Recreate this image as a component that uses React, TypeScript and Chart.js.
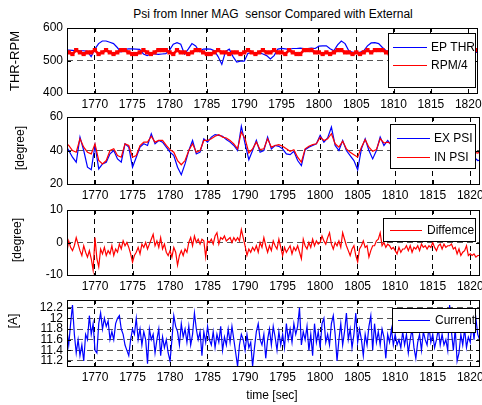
import React, { useEffect, useRef } from "react";
import { Chart, registerables } from "chart.js";

Chart.register(...registerables);

// ---- data -------------------------------------------------------------
const TIME_TICKS = [1770, 1775, 1780, 1785, 1790, 1795, 1800, 1805, 1810, 1815, 1820];
const TIME_MIN = 1766.27;
const TIME_MAX = 1821.3;

// slow channels sampled every 0.5 s starting at 1766.0 s
const SLOW_START = 1766.0;
const SLOW_STEP = 0.5;

const EP_THR = [
  532, 532, 531, 530, 530, 530, 528, 512, 535, 552,
  560, 560, 556, 552, 540, 526, 534, 536, 536, 535,
  534, 520, 515, 520, 520, 519, 520, 521, 532, 550,
  555, 550, 520, 535, 552, 545, 527, 535, 536, 535,
  530, 512, 488, 528, 535, 512, 495, 498, 498, 522,
  523, 522, 524, 520, 515, 505, 515, 535, 537, 536,
  534, 537, 537, 538, 537, 537, 538, 537, 544, 545,
  545, 536, 530, 548, 560, 552, 530, 525, 525, 525,
  530, 545, 554, 555,
  552, 540, 530, 528, 530, 532, 528, 526, 530, 534,
  531, 527, 525, 529, 533, 530, 526, 524, 527, 530,
  528, 525, 523, 526, 528, 526, 525, 525,
];

const RPM_4 = [
  525, 525, 520, 532, 525, 520, 525, 525, 532, 520,
  525, 532, 525, 520, 525, 532, 532, 525, 520, 520,
  525, 532, 525, 520, 525, 532, 532, 532, 525, 520,
  532, 525, 525, 520, 525, 532, 532, 525, 520, 520,
  525, 532, 525, 525, 520, 525, 525, 520, 525, 532,
  525, 520, 525, 532, 525, 525, 532, 525, 525, 520,
  532, 525, 520, 520, 532, 532, 532, 525, 525, 520,
  525, 520, 525, 532, 532, 525, 525, 520, 525, 520,
  525, 532, 525, 532, 532, 532,
  525, 520, 532, 525, 520, 525, 532, 525, 520, 525,
  532, 532, 525, 520, 525, 532, 525, 520, 525, 532,
  525, 525, 520, 532, 532, 532,
];

const EX_PSI = [
  44, 40, 36, 33, 48, 40, 30, 28.5, 43, 29,
  32, 33, 38, 40, 35, 33, 44, 42, 30, 36,
  42, 44, 43, 50, 44, 46, 45, 42, 39, 37,
  30, 25.5, 32, 40, 46, 38, 39, 47, 45, 48,
  49.5, 49, 48.5, 46.5, 45, 43, 40, 54.5, 44, 34.5,
  40, 46, 39, 40, 48, 41, 43, 42.5, 41, 38,
  37.5, 39.5, 34, 31, 40.5, 42, 43, 44, 49, 45,
  47.5, 54, 43, 40, 46, 40, 37, 34, 28.5, 41,
  47, 40, 35, 40, 48, 43,
  46, 43, 41, 47, 40, 39, 45, 46, 42, 38,
  41, 45, 47, 42, 39, 38, 41, 45, 42, 39,
  37, 40, 38, 36, 34, 34.5,
];

const IN_PSI = [
  45, 43, 40, 39, 47, 42, 39, 38, 44, 34,
  32, 34, 40, 41, 37, 36, 44, 43, 36, 37,
  43, 45, 45, 48.5, 45, 46, 46, 43, 40.5, 39,
  34, 31.5, 34, 40, 44, 39, 40, 46, 46, 47,
  48.5, 49.5, 48, 47.5, 46, 44, 41, 51, 47, 38.5,
  41, 45, 40.5, 41, 47, 42, 43, 43.5, 42.5, 41,
  39.5, 40.5, 36, 33, 41, 42.5, 43.5, 44, 48, 46,
  47, 50, 44, 42, 45.5, 41, 39, 37.5, 36, 42,
  46.5, 42, 39.5, 40.5, 47, 44.5,
  45, 44, 43, 46, 42, 41, 44, 45, 43, 40,
  42, 44, 46, 43, 41, 40, 42, 44, 43, 41,
  40, 42, 41, 39, 38.5, 39.5,
];

// fast channels sampled every 0.25 s starting at 1766.25 s
const FAST_START = 1766.25;
const FAST_STEP = 0.25;

const DIFFERENCE = [
  -3, 0.5, -1.5, -2.5, -1, 1.5, -0.5, -2.5, -4, -1, -3, -4.5,
  -2.5, -5, -8.5, 1.5, -5, -7.5, -2, -3.5, -1.5, -4, -2.5, -3.5,
  -1, -4, -2, -3, -0.5, -2, 0.5, -1, 0, -1.5, -3.5, -6,
  -4, -3, -1.5, -3.5, -0.5, -1.5, 0, -2, -0.5, 1, 2.5, -1,
  0.5, -1.5, 1.5, -2, -0.5, -3, -4, -2.5, -4.5, -1.5, -3, -7,
  -4, -2.5, -4, -2, -3, 0, 1.5, -1, 2, 0, 1, -0.5,
  1, 0.5, -4.5, 0.5, 0, 1, -0.5, 2, 3, -0.5, 1.5, 1,
  2, 0.5, 1, 1.5, 0, 1.5, 0.5, 1.5, 0.5, 4, 1.5, -1,
  -4, -2, -3, -1.5, -2.5, -1, -3, 0, -1.5, 1.5, -1, -3,
  -1, -2.5, 0.5, -1, -2, 1, -1.5, -4, -1.5, -3, -2, -1,
  -3.5, -1.5, -2.5, -1, -3, -5, 1, -1, -2, 0, -1.5, 1,
  -1, 0.5, -0.5, 0, 2, 0.5, -0.5, 1.5, 3, -0.5, -2, 0,
  -1, 0.5, -1.5, 3, 1, -1, -2.5, -4, -2, -1, -4, -6,
  -2, -1, 0.5, -1.5, -1, -4.5, -2.5, -1, -1, 0.5, 1, 3,
  -1, 0, -1.5, -0.5, -1, -2, -1.5, -2.5, -3.5, -1.5, -3, -2,
  -2, -1, -2.5, -1, -3, -1.5, -2, -1, -2.5, -0.5, -1.5, -1,
  -2, -1, -1.5, 0, -1.5, -2.5, -1, -0.5, -2, -0.5, -1.5, -1,
  -1, -0.5, -2, -1.5, -3.5, -2, -4, -3, -2.5, -1, -4, -3.5,
  -4, -3.5, -4.5, -4, -4, -4.5,
];

const CURRENT = [
  11.8, 11.5, 11.9, 12.25, 11.7, 11.35, 11.6, 11.3, 11.5, 11.2, 11.7, 11.6,
  12.05, 11.7, 11.9, 11.4, 11.35, 11.9, 12.1, 11.8, 12.0, 11.85, 11.95, 11.6,
  11.75, 11.6, 11.9, 12.0, 12.05, 11.8, 11.7, 11.5, 11.4, 11.3, 11.6, 11.8,
  11.7, 12.0, 11.6, 11.8, 11.5, 11.75, 11.6, 11.15, 11.8, 11.6, 11.7, 11.35,
  11.6, 11.8, 11.3, 11.65, 11.45, 11.6, 11.35, 11.2, 11.6, 12.05, 11.85, 11.75,
  11.5, 11.9, 11.65, 11.8, 11.55, 11.85, 11.5, 11.7, 12.1, 11.8, 11.6, 11.75,
  11.3, 11.75, 11.55, 11.85, 11.6, 11.5, 11.75, 11.45, 11.7, 11.55, 11.85, 11.4,
  11.65, 11.5, 11.8, 11.55, 11.85, 11.6, 11.35, 11.1, 11.5, 11.7, 11.6, 11.4,
  11.7, 11.45, 11.55, 11.1, 11.45, 11.75, 11.9, 11.6, 11.5, 11.7, 11.25, 11.6,
  11.8, 11.5, 11.85, 11.65, 11.4, 11.75, 11.5, 11.7, 11.45, 11.9, 11.6, 11.8,
  11.55, 11.9, 11.7, 11.85, 12.2, 11.5, 11.75, 11.6, 11.85, 11.4, 11.7, 11.3,
  11.9, 11.55, 11.75, 11.45, 11.9, 12.0, 11.55, 11.7, 11.5, 11.9, 12.05, 11.7,
  11.2, 11.6, 11.9, 11.5, 11.75, 12.1, 11.6, 11.8, 11.45, 11.7, 12.1, 11.55,
  11.8, 11.6, 11.3, 11.7, 11.5, 11.85, 12.05, 11.4, 11.9, 11.55, 11.75, 11.5,
  11.8, 11.65, 11.25, 11.7, 11.55, 11.8, 11.5, 11.7, 11.5, 11.6, 11.45, 11.75,
  11.5, 11.7, 11.35, 11.6, 11.8, 11.45, 11.25, 11.55, 11.7, 11.4, 11.75, 11.6,
  11.5, 11.85, 11.55, 11.7, 11.45, 11.6, 11.8, 11.5, 11.7, 11.5, 11.6, 11.4,
  12.25, 11.75, 11.4, 11.8, 11.2, 11.35, 11.7, 11.5, 11.8, 11.45, 11.65, 11.55,
  11.95, 11.6, 12.0, 11.7, 11.6, 11.85,
];

const THR_TICKS = [400, 500, 600];
const PSI_TICKS = [20, 40, 60];
const DIFF_TICKS = [-10, 0, 10];
const CURRENT_TICKS = [11.2, 11.4, 11.6, 11.8, 12, 12.2];

// ---- layout -----------------------------------------------------------
const PAGE_W = 482;
const PAGE_H = 405;
const PLOT_LEFT = 67;
const PLOT_RIGHT = 480;
const PAD_TOP = 6;
const X_AXIS_H = 20;
const FONT_FAMILY = "'Liberation Sans Narrow', 'Arial Narrow', Arial, 'Liberation Sans', sans-serif";
const BLUE = "#0000ff";
const RED = "#ff0000";

const toPoints = (start: number, step: number, values: number[]) =>
  values.map((y, i) => ({ x: start + i * step, y }));

type LegendSpec = {
  items: { label: string; color: string }[];
  box: [number, number, number, number]; // left, top, right, bottom (page px)
  rows: number[];
  line: [number, number];
  textX: number;
};

type PanelSpec = {
  top: number;
  bottom: number;
  yMin: number;
  yMax: number;
  yTicks: number[];
  datasets: any[];
  legend: LegendSpec;
};

const lineSet = (label: string, color: string, data: any[], order: number, extra: any = {}) => ({
  label,
  data,
  borderColor: color,
  backgroundColor: color,
  borderWidth: 1.2,
  pointRadius: 0,
  tension: 0,
  order,
  ...extra,
});

const PANELS: PanelSpec[] = [
  {
    top: 28,
    bottom: 93,
    yMin: 400,
    yMax: 600,
    yTicks: THR_TICKS,
    datasets: [
      lineSet("EP THR", BLUE, toPoints(SLOW_START, SLOW_STEP, EP_THR), 1),
      lineSet("RPM/4", RED, toPoints(SLOW_START, SLOW_STEP, RPM_4), 0, {
        borderWidth: 2.5,
        pointRadius: 3,
        pointStyle: "rect",
        pointBorderWidth: 0,
      }),
    ],
    legend: {
      items: [
        { label: "EP THR", color: BLUE },
        { label: "RPM/4", color: RED },
      ],
      box: [388, 33, 475, 87],
      rows: [47, 65],
      line: [393, 427],
      textX: 431,
    },
  },
  {
    top: 117,
    bottom: 184,
    yMin: 20,
    yMax: 60,
    yTicks: PSI_TICKS,
    datasets: [
      lineSet("EX PSI", BLUE, toPoints(SLOW_START, SLOW_STEP, EX_PSI), 1),
      lineSet("IN PSI", RED, toPoints(SLOW_START, SLOW_STEP, IN_PSI), 0),
    ],
    legend: {
      items: [
        { label: "EX PSI", color: BLUE },
        { label: "IN PSI", color: RED },
      ],
      box: [390, 124, 475, 168],
      rows: [138, 157],
      line: [397, 430],
      textX: 434,
    },
  },
  {
    top: 210,
    bottom: 275,
    yMin: -10,
    yMax: 10,
    yTicks: DIFF_TICKS,
    datasets: [lineSet("Diffemce", RED, toPoints(FAST_START, FAST_STEP, DIFFERENCE), 0)],
    legend: {
      items: [{ label: "Diffemce", color: RED }],
      box: [383, 218, 475, 241],
      rows: [230],
      line: [390, 422],
      textX: 427,
    },
  },
  {
    top: 300,
    bottom: 366,
    yMin: 11.106,
    yMax: 12.344,
    yTicks: CURRENT_TICKS,
    datasets: [lineSet("Current", BLUE, toPoints(FAST_START, FAST_STEP, CURRENT), 0)],
    legend: {
      items: [{ label: "Current", color: BLUE }],
      box: [392, 308, 475, 332],
      rows: [320],
      line: [398, 430],
      textX: 435,
    },
  },
];

function Panel({ spec }: { spec: PanelSpec }) {
  const ref = useRef<HTMLCanvasElement | null>(null);
  const canvasTop = spec.top - PAD_TOP;
  const canvasH = spec.bottom - spec.top + PAD_TOP + X_AXIS_H;

  useEffect(() => {
    if (!ref.current) return;

    const framePlugin = {
      id: "matlabFrame",
      afterDatasetsDraw(chart: any) {
        const { ctx, chartArea: a, scales } = chart;
        ctx.save();
        ctx.strokeStyle = "#000";
        ctx.lineWidth = 1;
        ctx.setLineDash([]);
        // inward tick marks on all four sides
        ctx.beginPath();
        for (const t of scales.x.ticks) {
          const px = Math.round(scales.x.getPixelForValue(t.value)) + 0.5;
          ctx.moveTo(px, a.top);
          ctx.lineTo(px, a.top + 4);
          ctx.moveTo(px, a.bottom);
          ctx.lineTo(px, a.bottom - 4);
        }
        for (const t of scales.y.ticks) {
          const py = Math.round(scales.y.getPixelForValue(t.value)) + 0.5;
          ctx.moveTo(a.left, py);
          ctx.lineTo(a.left + 4, py);
          ctx.moveTo(a.right, py);
          ctx.lineTo(a.right - 4, py);
        }
        ctx.stroke();
        ctx.strokeRect(
          Math.round(a.left) + 0.5,
          Math.round(a.top) + 0.5,
          Math.round(a.right - a.left) - 1,
          Math.round(a.bottom - a.top)
        );

        // legend box
        const lg = spec.legend;
        const [l, t, r, b] = lg.box;
        ctx.fillStyle = "#fff";
        ctx.fillRect(l, t - canvasTop, r - l, b - t);
        ctx.strokeRect(l + 0.5, t - canvasTop + 0.5, r - l, b - t);
        ctx.font = `12px ${FONT_FAMILY}`;
        ctx.textBaseline = "middle";
        ctx.textAlign = "left";
        lg.items.forEach((it, i) => {
          const y = lg.rows[i] - canvasTop + 0.5;
          ctx.strokeStyle = it.color;
          ctx.beginPath();
          ctx.moveTo(lg.line[0], y);
          ctx.lineTo(lg.line[1], y);
          ctx.stroke();
          ctx.fillStyle = "#000";
          ctx.fillText(it.label, lg.textX, y + 0.5);
        });
        ctx.restore();
      },
    };

    const chart = new Chart(ref.current, {
      type: "line",
      data: { datasets: spec.datasets },
      options: {
        responsive: false,
        animation: false,
        events: [],
        layout: { padding: { top: PAD_TOP, right: PAGE_W - PLOT_RIGHT, left: 0, bottom: 0 } },
        plugins: { legend: { display: false }, tooltip: { enabled: false }, title: { display: false } },
        scales: {
          x: {
            type: "linear",
            min: TIME_MIN,
            max: TIME_MAX,
            afterBuildTicks: (s: any) => {
              s.ticks = TIME_TICKS.map((v) => ({ value: v }));
            },
            afterFit: (s: any) => {
              s.height = X_AXIS_H;
              s.paddingLeft = 0;
              s.paddingRight = 0;
            },
            grid: { color: "#000", lineWidth: 1, drawTicks: false },
            border: { display: false, dash: [5, 4] },
            ticks: {
              autoSkip: false,
              maxRotation: 0,
              padding: 4,
              color: "#000",
              font: { family: FONT_FAMILY, size: 12 },
              callback: (v: any) => String(v),
            },
          },
          y: {
            type: "linear",
            min: spec.yMin,
            max: spec.yMax,
            afterBuildTicks: (s: any) => {
              s.ticks = spec.yTicks.map((v) => ({ value: v }));
            },
            afterFit: (s: any) => {
              s.width = PLOT_LEFT;
              s.paddingTop = 0;
              s.paddingBottom = 0;
            },
            grid: { color: "#555", lineWidth: 1, drawTicks: false },
            border: { display: false, dash: [6, 4] },
            ticks: {
              autoSkip: false,
              padding: 4,
              color: "#000",
              font: { family: FONT_FAMILY, size: 12 },
              callback: (v: any) => String(v),
            },
          },
        },
      },
      plugins: [framePlugin],
    } as any);
    return () => chart.destroy();
  }, [spec]);

  return (
    <canvas
      ref={ref}
      width={PAGE_W}
      height={canvasH}
      style={{ position: "absolute", left: 0, top: canvasTop, width: PAGE_W, height: canvasH }}
    />
  );
}

const textStyle = (x: number, y: number, size: number, rotate = false): React.CSSProperties => ({
  position: "absolute",
  left: x,
  top: y,
  transform: `translate(-50%, -50%)${rotate ? " rotate(-90deg)" : ""}`,
  whiteSpace: "nowrap",
  fontFamily: FONT_FAMILY,
  fontSize: size,
  lineHeight: 1,
  color: "#000",
});

export default function App() {
  return (
    <div
      style={{
        position: "absolute",
        left: 0,
        top: 0,
        width: PAGE_W,
        height: PAGE_H,
        background: "#fff",
        overflow: "hidden",
      }}
    >
      {PANELS.map((p, i) => (
        <Panel key={i} spec={p} />
      ))}
      <div style={textStyle(273, 14, 12)}>Psi from Inner MAG&nbsp;&nbsp;sensor Compared with External</div>
      <div style={textStyle(14, 61, 13, true)}>THR-RPM</div>
      <div style={textStyle(20, 148, 12, true)}>[degree]</div>
      <div style={textStyle(17, 240, 12, true)}>[degree]</div>
      <div style={textStyle(13, 321, 12, true)}>[A]</div>
      <div style={textStyle(272, 395, 12)}>time [sec]</div>
    </div>
  );
}
